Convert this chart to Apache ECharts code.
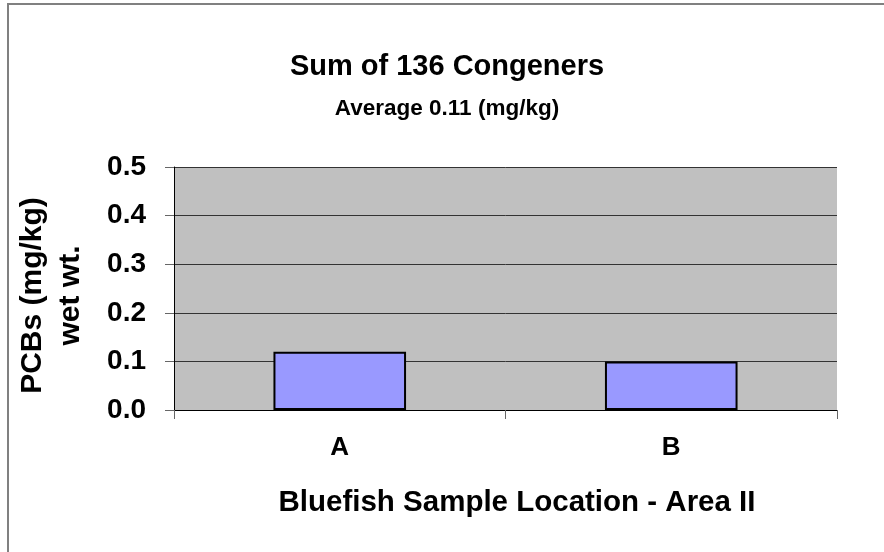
<!DOCTYPE html>
<html>
<head>
<meta charset="utf-8">
<script src="https://cdn.jsdelivr.net/npm/echarts@6/dist/echarts.min.js"></script>
<style>
  html, body { margin: 0; padding: 0; background: #fff; }
  #chart { width: 884px; height: 552px; }
</style>
</head>
<body>
<div id="chart"></div>
<script>
// values
const categories = ['A', 'B']
const pcbValues = [0.12, 0.10]
const yTicks = [0, 0.1, 0.2, 0.3, 0.4, 0.5]

const font = '"Liberation Sans", Arial, sans-serif'
const chart = echarts.init(document.getElementById('chart'))

const option = {
  animation: false,
  backgroundColor: '#fff',
  title: {
    text: 'Sum of 136 Congeners',
    subtext: 'Average 0.11 (mg/kg)',
    left: 442,
    textAlign: 'center',
    top: 47,
    itemGap: 16,
    textStyle: { fontFamily: font, fontSize: 29, fontWeight: 'bold', color: '#000' },
    subtextStyle: { fontFamily: font, fontSize: 22.5, fontWeight: 'bold', color: '#000' }
  },
  graphic: [
    {
      type: 'rect',
      shape: { x: 8, y: 4, width: 900, height: 600 },
      style: { fill: 'none', stroke: '#808080', lineWidth: 2 },
      silent: true
    }
  ],
  grid: {
    left: 174,
    right: 47,
    top: 167,
    bottom: 142,
    containLabel: false,
    outerBoundsMode: 'none',
    show: true,
    backgroundColor: '#c0c0c0',
    borderWidth: 0
  },
  xAxis: {
    type: 'category',
    data: categories,
    boundaryGap: true,
    axisLine: { lineStyle: { color: '#000', width: 1 } },
    axisTick: { show: true, length: 9, lineStyle: { color: '#666' } },
    axisLabel: {
      margin: 25,
      fontFamily: font, fontSize: 26, fontWeight: 'bold', color: '#000'
    },
    name: 'Bluefish Sample Location - Area II',
    nameLocation: 'middle',
    nameGap: 78,
    nameTextStyle: {
      fontFamily: font, fontSize: 29.5, fontWeight: 'bold', color: '#000',
      padding: [0, 0, 0, 23]
    }
  },
  yAxis: {
    type: 'value',
    min: yTicks[0],
    max: yTicks[yTicks.length - 1],
    interval: 0.1,
    axisLine: { show: true, lineStyle: { color: '#000', width: 1 } },
    axisTick: { show: true, length: 9, lineStyle: { color: '#666' } },
    splitLine: { show: true, lineStyle: { color: '#333', width: 1 } },
    axisLabel: {
      margin: 28,
      formatter: v => v.toFixed(1),
      fontFamily: font, fontSize: 28, fontWeight: 'bold', color: '#000'
    },
    name: 'PCBs (mg/kg)\nwet wt.',
    nameLocation: 'middle',
    nameGap: 84,
    nameTextStyle: {
      fontFamily: font, fontSize: 30, fontWeight: 'bold', color: '#000',
      lineHeight: 38,
      padding: [0, 14, 0, 0]
    }
  },
  series: [
    {
      type: 'bar',
      data: pcbValues,
      barWidth: '40%',
      itemStyle: { color: '#9999ff', borderColor: '#000', borderWidth: 2 }
    }
  ]
}

chart.setOption(option)
</script>
</body>
</html>
